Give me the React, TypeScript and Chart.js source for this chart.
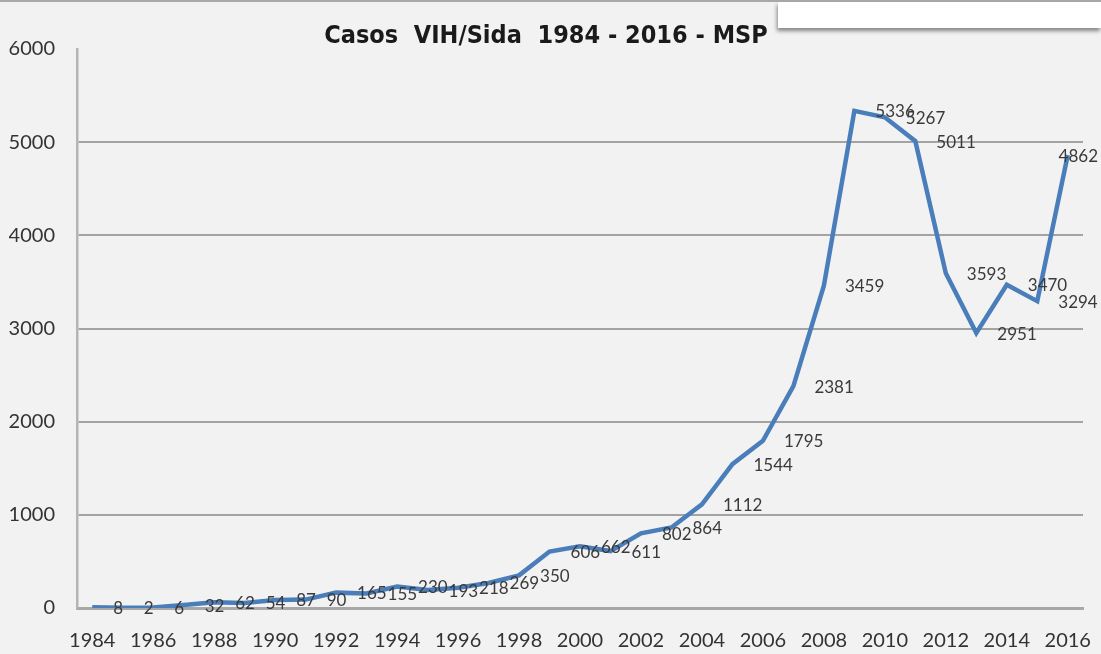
import React, { useEffect, useRef } from "react";
import { Chart, registerables } from "chart.js";

Chart.register(...registerables);

const years = [
  "1984", "1985", "1986", "1987", "1988", "1989", "1990", "1991", "1992", "1993", "1994",
  "1995", "1996", "1997", "1998", "1999", "2000", "2001", "2002", "2003", "2004", "2005",
  "2006", "2007", "2008", "2009", "2010", "2011", "2012", "2013", "2014", "2015", "2016",
];

const cases = [
  8, 2, 6, 32, 62, 54, 87, 90, 165, 155, 230,
  193, 218, 269, 350, 606, 662, 611, 802, 864, 1112, 1544,
  1795, 2381, 3459, 5336, 5267, 5011, 3593, 2951, 3470, 3294, 4862,
];

const shownYearLabels = [
  "1984", "1986", "1988", "1990", "1992", "1994", "1996", "1998",
  "2000", "2002", "2004", "2006", "2008", "2010", "2012", "2014", "2016",
];

const yMin = 0;
const yMax = 6000;
const yStep = 1000;

const titleText = "Casos  VIH/Sida  1984 - 2016 - MSP";

const W = 1101;
const H = 654;

const labelFont = "17px Lato, 'Liberation Sans', sans-serif";

const dataLabelPlugin = {
  id: "dataLabelsRight",
  afterDatasetsDraw(chart: any) {
    const ctx = chart.ctx;
    const meta = chart.getDatasetMeta(0);
    const data = chart.data.datasets[0].data as number[];
    ctx.save();
    ctx.font = labelFont;
    ctx.fillStyle = "#3a3a3a";
    ctx.textBaseline = "middle";
    ctx.textAlign = "left";
    meta.data.forEach((pt: any, i: number) => {
      const text = String(data[i]);
      const w = ctx.measureText(text).width;
      let x = pt.x + 21;
      if (x + w > chart.width - 3) x = chart.width - 3 - w;
      ctx.fillText(text, x, pt.y + 1);
    });
    ctx.restore();
  },
};

export default function App() {
  const canvasRef = useRef<HTMLCanvasElement | null>(null);

  useEffect(() => {
    if (!canvasRef.current) return;
    const chart = new Chart(canvasRef.current, {
      type: "line",
      data: {
        labels: years,
        datasets: [
          {
            data: cases,
            borderColor: "#4a7ebb",
            backgroundColor: "#4a7ebb",
            borderWidth: 4.5,
            pointRadius: 0,
            tension: 0,
            fill: false,
          },
        ],
      },
      options: {
        responsive: false,
        animation: false,
        layout: { padding: { left: 9, right: 18, top: 0, bottom: 0 } },
        plugins: {
          legend: { display: false },
          tooltip: { enabled: false },
          title: {
            display: true,
            text: titleText,
            color: "#1a1a1a",
            font: {
              family: "'Liberation Sans Narrow', 'DejaVu Sans Condensed', sans-serif",
              size: 25,
              weight: "bold",
              lineHeight: 1,
            },
            padding: { top: 24, bottom: 0 },
          },
        },
        scales: {
          x: {
            type: "category",
            offset: true,
            grid: { display: false, drawTicks: false },
            border: { display: true, color: "#a8a8a8", width: 3 },
            afterFit: (s: any) => {
              s.paddingLeft = 0;
              s.paddingRight = 0;
              s.height = 46;
            },
            ticks: {
              autoSkip: false,
              maxRotation: 0,
              minRotation: 0,
              padding: 21,
              color: "#333333",
              font: { family: "Lato, 'Liberation Sans', sans-serif", size: 20 },
              callback: (_v: any, idx: number) =>
                shownYearLabels.includes(years[idx]) ? years[idx] : "",
            },
          },
          y: {
            min: yMin,
            max: yMax,
            afterFit: (s: any) => {
              s.width = 68;
            },
            grid: {
              drawTicks: false,
              lineWidth: 2,
              color: (c: any) =>
                c.tick && (c.tick.value === yMax || c.tick.value === yMin)
                  ? "rgba(0,0,0,0)"
                  : "#a3a3a3",
            },
            border: { display: true, color: "#b4b4b4", width: 2.5 },
            ticks: {
              stepSize: yStep,
              padding: 22,
              color: "#333333",
              font: { family: "Lato, 'Liberation Sans', sans-serif", size: 20 },
              callback: (v: any) => String(v),
            },
          },
        },
      },
      plugins: [dataLabelPlugin],
    });
    return () => chart.destroy();
  }, []);

  return (
    <div
      style={{
        position: "fixed",
        left: 0,
        top: 0,
        width: W,
        height: H,
        background: "#f2f2f2",
        overflow: "hidden",
      }}
    >
      <canvas ref={canvasRef} width={W} height={H} style={{ display: "block" }} />
      <div
        style={{
          position: "absolute",
          left: 0,
          top: 0,
          width: W,
          height: 2,
          background: "#a9a9a9",
        }}
      />
      <div
        style={{
          position: "absolute",
          left: 778,
          top: 2,
          width: W - 778,
          height: 26,
          background: "#ffffff",
          boxShadow: "-1px 3px 4px rgba(0,0,0,0.45)",
        }}
      />
    </div>
  );
}
